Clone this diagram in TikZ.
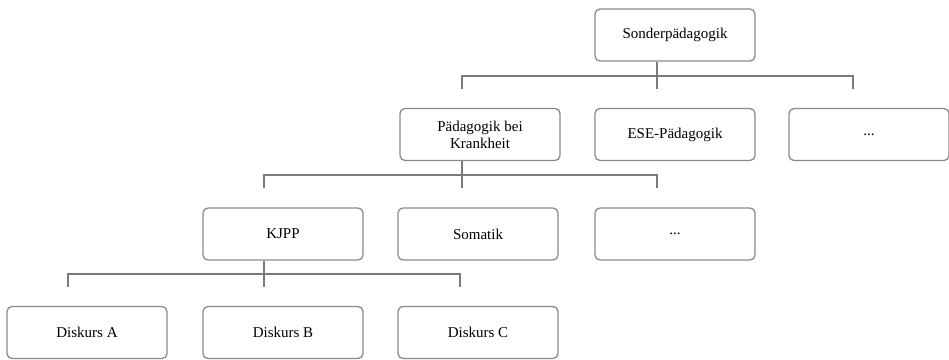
\documentclass[tikz,border=0pt]{standalone}
\usepackage{fontspec}
\setmainfont{Liberation Serif}
\begin{document}
\begin{tikzpicture}[x=1pt,y=-1pt,
  orgbox/.style={draw=boxgray, line width=1.3pt, rounded corners=5pt,
    minimum width=160pt, minimum height=52pt, inner sep=2pt,
    align=center, font=\fontsize{15}{17}\selectfont, text=black},
  conn/.style={draw=linegray, line width=1.8pt}]
\definecolor{boxgray}{HTML}{8A8A8A}
\definecolor{linegray}{HTML}{7A7A7A}
\useasboundingbox (0,0) rectangle (949,359);
% row 1
\node[orgbox] (sonder) at (675,35) {Sonderpädagogik};
% row 2
\node[orgbox] (pbk) at (480,134.5) {Pädagogik bei\\Krankheit};
\node[orgbox] (ese) at (675,134.5) {ESE-Pädagogik};
\node[orgbox] (dotsA) at (869,134.5) {...};
% row 3
\node[orgbox] (kjpp) at (283,234) {KJPP};
\node[orgbox] (somatik) at (478,234) {Somatik};
\node[orgbox] (dotsB) at (675,234) {...};
% row 4
\node[orgbox] (da) at (87,332.5) {Diskurs A};
\node[orgbox] (db) at (283,332.5) {Diskurs B};
\node[orgbox] (dc) at (478,332.5) {Diskurs C};
% connectors level 1
\draw[conn] ([xshift=-18pt,yshift=19pt]pbk.north) |- ([xshift=-16pt,yshift=32pt]dotsA.north) -- ([xshift=-16pt,yshift=19pt]dotsA.north);
\draw[conn] ([xshift=-18pt]sonder.south) -- ([xshift=-18pt,yshift=19pt]ese.north);
% connectors level 2
\draw[conn] ([xshift=-19pt,yshift=19pt]kjpp.north) |- ([xshift=-18pt,yshift=32pt]dotsB.north) -- ([xshift=-18pt,yshift=19pt]dotsB.north);
\draw[conn] ([xshift=-18pt]pbk.south) -- ([xshift=-16pt,yshift=19pt]somatik.north);
% connectors level 3
\draw[conn] ([xshift=-19pt,yshift=19pt]da.north) |- ([xshift=-18pt,yshift=32pt]dc.north) -- ([xshift=-18pt,yshift=19pt]dc.north);
\draw[conn] ([xshift=-19pt]kjpp.south) -- ([xshift=-19pt,yshift=19pt]db.north);
\end{tikzpicture}
\end{document}
